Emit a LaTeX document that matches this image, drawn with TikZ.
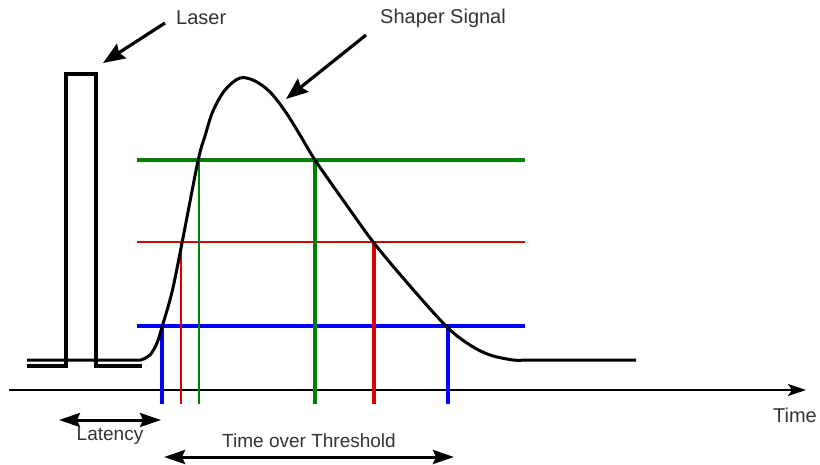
\documentclass[tikz,border=0pt]{standalone}
\usepackage{fontspec}
\setmainfont{Liberation Sans}
\usetikzlibrary{arrows.meta}
\definecolor{txt}{HTML}{333333}
\definecolor{gr}{HTML}{008000}
\definecolor{rd}{HTML}{DD0000}
\definecolor{bl}{HTML}{0000FF}
\tikzset{
  lbl/.style={text=txt, inner sep=0pt, font=\fontsize{20}{24}\selectfont},
  lblsmall/.style={text=txt, inner sep=0pt, font=\fontsize{19}{22}\selectfont},
  pointer/.style={line width=3.2pt, -{Stealth[length=22pt,width=17pt,inset=3pt]}},
  dim/.style={line width=3pt, {Stealth[length=21pt,width=14pt,inset=3pt]}-{Stealth[length=21pt,width=14pt,inset=3pt]}},
  sig/.style={line width=3pt, line join=round},
}
\begin{document}
\begin{tikzpicture}[x=1pt,y=-1pt]
\useasboundingbox (0,0) rectangle (820,464);
% axis
\coordinate (ax0) at (9,390);
\coordinate (ax1) at (806,390);
\draw[line width=2.2pt, -{Stealth[length=18pt,width=12pt,inset=4pt]}] (ax0) -- (ax1);
\node[lbl, anchor=north] (time) at (795,408) {Time};

% threshold lines
\coordinate (gL) at (137,160); \coordinate (gR) at (525,160);
\coordinate (rL) at (137,242); \coordinate (rR) at (525,242);
\coordinate (bL) at (137,326); \coordinate (bR) at (525,326);
\draw[gr, line width=4.8pt] (gL) -- (gR);
\draw[rd, line width=2.2pt] (rL) -- (rR);
\draw[bl, line width=4.3pt] (bL) -- (bR);

% vertical crossings
\coordinate (b1) at (162,326); \coordinate (b1d) at (162,404);
\coordinate (r1) at (181,242); \coordinate (r1d) at (181,404);
\coordinate (g1) at (199,160); \coordinate (g1d) at (199,404);
\coordinate (g2) at (315,160); \coordinate (g2d) at (315,404);
\coordinate (r2) at (374,242); \coordinate (r2d) at (374,404);
\coordinate (b2) at (448,326); \coordinate (b2d) at (448,404);
\draw[bl, line width=3.3pt] (b1) -- (b1d);
\draw[rd, line width=1.6pt] (r1) -- (r1d);
\draw[gr, line width=2.8pt] (g1) -- (g1d);
\draw[gr, line width=4.2pt] (g2) -- (g2d);
\draw[rd, line width=3.3pt] (r2) -- (r2d);
\draw[bl, line width=3.3pt] (b2) -- (b2d);

% laser pulse
\draw[line width=3.5pt, line join=miter] (27,366) -- (66,366) -- (66,74) -- (96,74) -- (96,366) -- (142,366);

% shaper signal
\draw[sig] (27,360) -- (141,360)
  plot[smooth, tension=0.55] coordinates {(141,360) (150,355) (157,343) (162,327) (172,292) (182,243) (198,161) (205,136) (213,111) (225,90) (240,78) (255,81) (270,92) (285,111) (300,135) (315,160) (343,200) (374,243) (410,286) (447,327) (470,345) (490,355) (513,360) (525,360)}
  -- (636,360);

% labels and pointers
\node[lbl, anchor=west] (laser) at (176,18) {Laser};
\coordinate (lasertail) at (165,23);
\coordinate (lasertip) at (103,63);
\draw[pointer] (lasertail) -- (lasertip);
\node[lbl, anchor=west] (shaper) at (380,18) {Shaper Signal};
\coordinate (shtail) at (366,35);
\coordinate (shtip) at (286,99);
\draw[pointer] (shtail) -- (shtip);

% latency
\coordinate (lat0) at (59,420); \coordinate (lat1) at (161,420);
\draw[dim] (lat0) -- (lat1);
\node[lblsmall] (latency) at (110,436) {Latency};

% time over threshold
\coordinate (tot0) at (164,457); \coordinate (tot1) at (454,457);
\draw[dim] (tot0) -- (tot1);
\node[lblsmall] (tot) at (309,441) {Time over Threshold};
\end{tikzpicture}
\end{document}
